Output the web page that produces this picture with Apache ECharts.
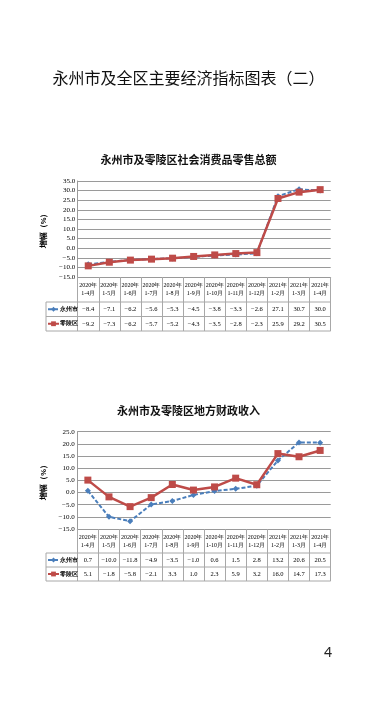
<!DOCTYPE html>
<html><head><meta charset="utf-8">
<script src="https://cdn.jsdelivr.net/npm/echarts@6/dist/echarts.min.js"></script>
<style>html,body{margin:0;padding:0;background:#fff}#c{width:377px;height:718px}</style>
</head><body><div id="c"></div>
<script>
// ---- data ----
const categories = ['2020年\n1-4月','2020年\n1-5月','2020年\n1-6月','2020年\n1-7月','2020年\n1-8月','2020年\n1-9月','2020年\n1-10月','2020年\n1-11月','2020年\n1-12月','2021年\n1-2月','2021年\n1-3月','2021年\n1-4月'];
const seriesNames = ['永州市','零陵区'];
const retailYongzhou = [-8.4,-7.1,-6.2,-5.6,-5.3,-4.5,-3.8,-3.3,-2.6,27.1,30.7,30.0];
const retailLingling = [-9.2,-7.3,-6.2,-5.7,-5.2,-4.3,-3.5,-2.8,-2.3,25.9,29.2,30.5];
const revenueYongzhou = [0.7,-10.0,-11.8,-4.9,-3.5,-1.0,0.6,1.5,2.8,13.2,20.6,20.5];
const revenueLingling = [5.1,-1.8,-5.8,-2.1,3.3,1.0,2.3,5.9,3.2,16.0,14.7,17.3];
const retailAxis = {min:-15, max:35, interval:5};
const revenueAxis = {min:-15, max:25, interval:5};
const pageTitle = '永州市及全区主要经济指标图表（二）';
const chartTitles = ['永州市及零陵区社会消费品零售总额','永州市及零陵区地方财政收入'];
const yName = '增幅（%）';

// ---- layout ----
const panels = [
  {left:77.7, right:330.7, top:181, bottom:277, header:25, row:14.5, legendLeft:46, axis:retailAxis, a:retailYongzhou, b:retailLingling},
  {left:77.3, right:330.7, top:431.7, bottom:529, header:24, row:14, legendLeft:46, axis:revenueAxis, a:revenueYongzhou, b:revenueLingling}
];
const BLUE = '#4A7EBB', RED = '#BE4B48';
const GRID = '#9a9a9a', TABLE = '#a8a8a8';
const SERIF = '"Liberation Serif","Times New Roman",serif';
const fmt = v => (v < 0 ? '−' : '') + Math.abs(v).toFixed(1);

const grid = [], xAxis = [], yAxis = [], series = [], legend = [], graphic = [];
panels.forEach((p, g) => {
  grid.push({left:p.left, width:p.right - p.left, top:p.top, height:p.bottom - p.top});
  const tableH = p.header + 2 * p.row;
  xAxis.push({gridIndex:g, type:'category', data:categories, boundaryGap:true, position:'bottom',
    axisLine:{onZero:false, lineStyle:{color:GRID, width:1}},
    axisTick:{show:true, interval:0, length:tableH, lineStyle:{color:TABLE, width:1}},
    axisLabel:{interval:0, fontSize:6, lineHeight:8.5, color:'#000', fontFamily:SERIF, margin:4}});
  [p.a, p.b].forEach((vals, k) => {
    xAxis.push({gridIndex:g, type:'category', data:vals.map(fmt), position:'bottom', offset:p.header + k * p.row,
      axisLine:{show:false}, axisTick:{show:false},
      axisLabel:{interval:0, fontSize:6.5, lineHeight:8, color:'#000', fontFamily:SERIF, margin:3.5}});
  });
  yAxis.push({gridIndex:g, type:'value', min:p.axis.min, max:p.axis.max, interval:p.axis.interval,
    axisLine:{show:true, lineStyle:{color:GRID, width:1}}, axisTick:{show:false},
    splitLine:{lineStyle:{color:GRID, width:1.2}},
    axisLabel:{formatter:fmt, fontSize:7, color:'#000', fontFamily:SERIF, margin:2.5},
    name:yName, nameLocation:'middle', nameRotate:90, nameGap:22,
    nameTextStyle:{fontSize:7.5, fontWeight:'bold', color:'#000'}});
  const xi = g * 3;
  series.push({type:'line', name:seriesNames[0], xAxisIndex:xi, yAxisIndex:g, data:p.a,
    symbol:'diamond', symbolSize:6, z:2,
    lineStyle:{color:BLUE, width:2, type:[4,2]}, itemStyle:{color:BLUE}});
  series.push({type:'line', name:seriesNames[1], xAxisIndex:xi, yAxisIndex:g, data:p.b,
    symbol:'rect', symbolSize:7, z:3,
    lineStyle:{color:RED, width:2.5}, itemStyle:{color:RED}});
  const r1 = p.bottom + p.header, r2 = r1 + p.row, r3 = r2 + p.row;
  legend.push({orient:'vertical', left:p.legendLeft + 1, top:r1 + p.row / 2 - 4, padding:0,
    itemWidth:11, itemHeight:6, itemGap:p.row - 8, data:seriesNames, selectedMode:false,
    textStyle:{fontSize:5.8, lineHeight:8, fontWeight:'bold', color:'#000', padding:[0,0,0,-4]}});
  [r1, r2, r3].forEach(y => graphic.push({type:'line', shape:{x1:p.legendLeft, y1:y, x2:p.right, y2:y},
    style:{stroke:TABLE, lineWidth:1}, silent:true}));
  graphic.push({type:'line', shape:{x1:p.legendLeft, y1:r1, x2:p.legendLeft, y2:r3},
    style:{stroke:TABLE, lineWidth:1}, silent:true});
});

const title = [
  {text:pageTitle, left:'center', top:70, padding:0,
    textStyle:{fontSize:16, fontWeight:'normal', color:'#111', fontFamily:'"Noto Sans CJK SC",sans-serif'}},
  {text:chartTitles[0], left:'center', top:154, padding:0,
    textStyle:{fontSize:11, fontWeight:'bold', color:'#111', fontFamily:'"Noto Sans CJK SC",sans-serif'}},
  {text:chartTitles[1], left:'center', top:405, padding:0,
    textStyle:{fontSize:11, fontWeight:'bold', color:'#111', fontFamily:'"Noto Sans CJK SC",sans-serif'}},
  {text:'4', left:324, top:646, padding:0,
    textStyle:{fontSize:14, fontWeight:'normal', color:'#222', fontFamily:'"Noto Sans",sans-serif'}}
];

const chart = echarts.init(document.getElementById('c'), null, {renderer:'canvas'});
chart.setOption({backgroundColor:'#fff', animation:false, title, grid, xAxis, yAxis, series, legend, graphic});
</script></body></html>
